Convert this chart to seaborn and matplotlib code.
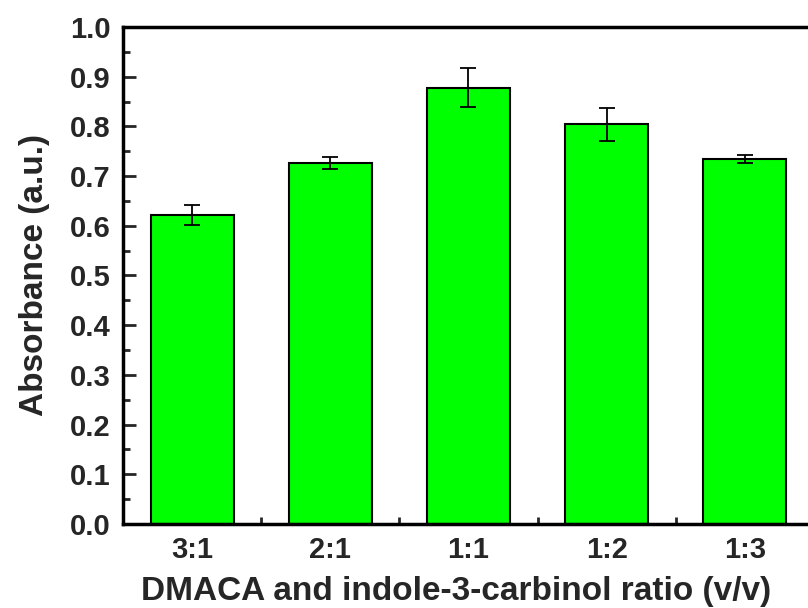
import numpy as np
import pandas as pd
import matplotlib
matplotlib.use("Agg")
import matplotlib.pyplot as plt
import seaborn as sns
from matplotlib.ticker import MultipleLocator, AutoMinorLocator

# data
ratios = ["3:1", "2:1", "1:1", "1:2", "1:3"]
absorbance = [0.622, 0.726, 0.878, 0.804, 0.734]
abs_err = [0.020, 0.012, 0.039, 0.034, 0.008]

df = pd.DataFrame({"ratio": ratios, "absorbance": absorbance, "err": abs_err})

sns.set_style("ticks")
plt.rcParams['font.family'] = ['Liberation Sans', 'DejaVu Sans']
plt.rcParams['font.weight'] = 'bold'

fig = plt.figure(figsize=(8.08, 6.08), dpi=100)
# right spine sits just past the right edge of the image in the reference
ax = fig.add_axes([0.1522, 0.1382, 0.8552, 0.8174])

sns.barplot(data=df, x="ratio", y="absorbance", order=ratios, color="#00ff00",
            saturation=1, width=0.6, edgecolor="black", linewidth=1.5,
            errorbar=None, ax=ax)
ax.errorbar(np.arange(len(ratios)), df["absorbance"], yerr=df["err"],
            fmt="none", ecolor="black", elinewidth=1.3, capsize=6, capthick=1.3)

ax.set_xlim(-0.5, len(ratios) - 0.5)
ax.set_ylim(0, 1.0)
ax.yaxis.set_major_locator(MultipleLocator(0.1))
ax.yaxis.set_minor_locator(AutoMinorLocator(2))
ax.set_xticks(np.arange(len(ratios)))
ax.set_xticks(np.arange(len(ratios) - 1) + 0.5, minor=True)
ax.yaxis.set_major_formatter(plt.FormatStrFormatter("%.1f"))

for s in ax.spines.values():
    s.set_linewidth(2.5)
    s.set_color("black")

ax.tick_params(which="major", direction="in", length=9, width=2, labelsize=21,
               top=False, right=False, pad=9)
ax.tick_params(which="minor", direction="in", length=5, width=2, top=False, right=False)
for lbl in ax.get_xticklabels() + ax.get_yticklabels():
    lbl.set_fontweight("bold")

ax.set_xlabel("DMACA and indole-3-carbinol ratio (v/v)", fontsize=24, fontweight="bold")
ax.xaxis.set_label_coords(0.482, -0.105)
ax.set_ylabel("Absorbance (a.u.)", fontsize=24, fontweight="bold", labelpad=14)

fig.savefig("out.png", dpi=100)
